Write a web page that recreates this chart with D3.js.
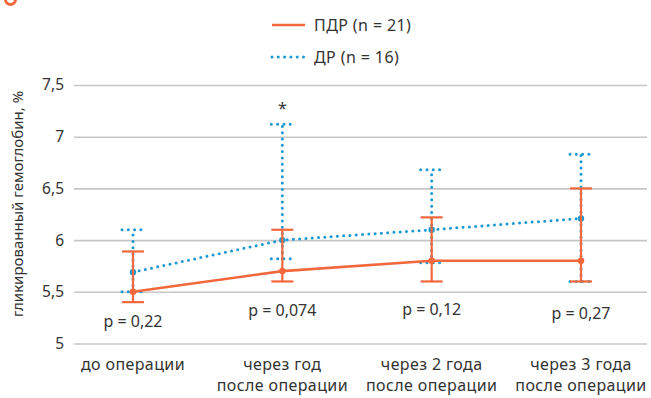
<!DOCTYPE html>
<html>
<head>
<meta charset="utf-8">
<script src="https://cdn.jsdelivr.net/npm/d3@7"></script>
<style>
  body { margin: 0; background: #fff; }
  svg { display: block; font-family: "Noto Sans", sans-serif; }
</style>
</head>
<body>
<svg id="chart" width="651" height="398"></svg>
<script>
// categories (two-line labels)
const categories = ["до операции", "через год", "через 2 года", "через 3 года"];
const subLabels = ["", "после операции", "после операции", "после операции"];

// ПДР (n = 21)
const pdrMean = [5.5, 5.7, 5.8, 5.8];
const pdrLow = [5.4, 5.6, 5.6, 5.6];
const pdrHigh = [5.89, 6.1, 6.22, 6.5];

// ДР (n = 16)
const drMean = [5.69, 6.0, 6.1, 6.21];
const drLow = [5.5, 5.82, 5.78, 5.6];
const drHigh = [6.1, 7.12, 6.68, 6.83];

const pLabels = ["p = 0,22", "p = 0,074", "p = 0,12", "p = 0,27"];
const pLabelAt = [5.21, 5.32, 5.33, 5.29];
const yTicks = [5, 5.5, 6, 6.5, 7, 7.5];

const orange = "#f2683c";
const blue = "#1a98d2";
const textColor = "#333";

const svg = d3.select("#chart");

const x = d3.scalePoint()
  .domain(categories)
  .range([133, 581]);

const y = d3.scaleLinear()
  .domain([5, 7.5])
  .range([343.5, 85]);

const fmt = d => String(d).replace(".", ",");

// gridlines + y labels
const yAxis = d3.axisLeft(y)
  .tickValues(yTicks)
  .tickSize(-573)
  .tickPadding(10)
  .tickFormat(fmt);

const gy = svg.append("g")
  .attr("transform", "translate(74,0)")
  .call(yAxis);
gy.select(".domain").remove();
gy.selectAll(".tick line").attr("stroke", "#c6c6c6").attr("stroke-width", 1.6);
gy.selectAll(".tick text")
  .attr("fill", textColor)
  .style("font-size", "15.5px")
  .style("font-family", "Noto Sans, sans-serif");

// y title
svg.append("text")
  .attr("transform", "translate(23,204) rotate(-90)")
  .attr("text-anchor", "middle")
  .attr("fill", textColor)
  .style("font-size", "15px")
  .text("гликированный гемоглобин, %");

const label = sel => sel
  .attr("fill", textColor)
  .style("font-size", "16px")
  .style("letter-spacing", "0.4px");

// x labels
categories.forEach((c, i) => {
  const t = svg.append("text")
    .attr("x", x(c))
    .attr("y", 370)
    .attr("text-anchor", "middle")
    .call(label);
  t.append("tspan").attr("x", x(c)).text(c);
  if (subLabels[i]) t.append("tspan").attr("x", x(c)).attr("dy", 21).text(subLabels[i]);
});

// blue series (dotted)
const dotted = sel => sel
  .attr("stroke", blue)
  .attr("stroke-width", 3)
  .attr("stroke-linecap", "round")
  .attr("stroke-dasharray", "0 6.3")
  .attr("fill", "none");

const line = d3.line().x((d, i) => x(categories[i])).y(d => y(d));

svg.append("path").datum(drMean).attr("d", line).call(dotted);

categories.forEach((c, i) => {
  const cx = x(c);
  svg.append("line")
    .attr("x1", cx).attr("x2", cx)
    .attr("y1", y(drLow[i])).attr("y2", y(drHigh[i]))
    .call(dotted);
  [drLow[i], drHigh[i]].forEach(v => {
    svg.append("line")
      .attr("x1", cx - 11).attr("x2", cx + 12)
      .attr("y1", y(v)).attr("y2", y(v))
      .call(dotted);
  });
  svg.append("circle").attr("cx", cx).attr("cy", y(drMean[i])).attr("r", 3.2).attr("fill", blue);
});

// orange series
svg.append("path").datum(pdrMean).attr("d", line)
  .attr("stroke", orange).attr("stroke-width", 2.6).attr("fill", "none");

categories.forEach((c, i) => {
  const cx = x(c);
  svg.append("line")
    .attr("x1", cx).attr("x2", cx)
    .attr("y1", y(pdrLow[i])).attr("y2", y(pdrHigh[i]))
    .attr("stroke", orange).attr("stroke-width", 2.2);
  [pdrLow[i], pdrHigh[i]].forEach(v => {
    svg.append("line")
      .attr("x1", cx - 11).attr("x2", cx + 11)
      .attr("y1", y(v)).attr("y2", y(v))
      .attr("stroke", orange).attr("stroke-width", 2.2);
  });
  svg.append("circle").attr("cx", cx).attr("cy", y(pdrMean[i])).attr("r", 3.3).attr("fill", orange);
});

// p-values
categories.forEach((c, i) => {
  svg.append("text")
    .attr("x", x(c))
    .attr("y", y(pLabelAt[i]))
    .attr("dy", "0.35em")
    .attr("text-anchor", "middle")
    .call(label)
    .style("letter-spacing", "0px")
    .text(pLabels[i]);
});

// significance mark
svg.append("text")
  .attr("x", x(categories[1]))
  .attr("y", y(drHigh[1]) - 10)
  .attr("text-anchor", "middle")
  .attr("fill", textColor)
  .style("font-size", "16px")
  .text("*");

// legend
const legend = svg.append("g");
legend.append("line").attr("x1", 272).attr("x2", 305).attr("y1", 25).attr("y2", 25)
  .attr("stroke", orange).attr("stroke-width", 2.6);
legend.append("text").attr("x", 314).attr("y", 25).attr("dy", "0.35em")
  .call(label).text("ПДР (n = 21)");
legend.append("line").attr("x1", 272).attr("x2", 305).attr("y1", 57).attr("y2", 57).call(dotted);
legend.append("text").attr("x", 314).attr("y", 57).attr("dy", "0.35em")
  .call(label).text("ДР (n = 16)");

// cropped panel marker at top-left
svg.append("circle").attr("cx", 10.5).attr("cy", -0.5).attr("r", 5)
  .attr("fill", "none").attr("stroke", orange).attr("stroke-width", 3);
</script>
</body>
</html>
